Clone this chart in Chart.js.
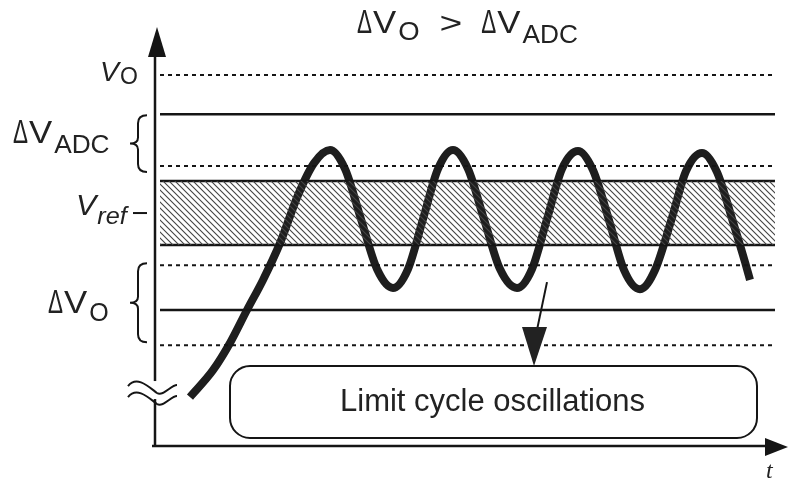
<!DOCTYPE html>
<html>
<head>
<meta charset="utf-8">
<script src="https://cdn.jsdelivr.net/npm/chart.js@4"></script>
<style>
  html, body { margin: 0; padding: 0; background: #fff; }
  canvas { display: block; }
</style>
</head>
<body>
<canvas id="myChart" width="790" height="489"></canvas>
<script>
// output voltage trace (time, volts relative to Vref, 1 unit = half the ADC zero band)
const tTrace = [3.5, 5.8, 7.5, 9.2, 10.8, 12.5, 14.3, 15.9, 17.5, 19.0, 20.6, 22.2, 23.8, 25.3, 26.8, 28.3,
  29.8, 31.3, 32.9, 34.5, 36.2, 37.7, 39.2, 40.7, 42.3, 43.8, 45.4, 46.9, 48.5, 50.0, 51.6, 53.1,
  54.7, 56.2, 57.8, 59.0, 59.5];
const vTrace = [-5.75, -4.91, -4.06, -3.03, -2.09, -0.94, 0.56, 1.56, 1.97, 1.38, -0.19, -1.75, -2.34, -1.75, -0.19, 1.38,
  1.97, 1.38, -0.19, -1.75, -2.34, -1.75, -0.19, 1.38, 1.94, 1.34, -0.22, -1.78, -2.38, -1.78, -0.25, 1.31,
  1.88, 1.28, -0.28, -1.53, -2.09];

// threshold levels
const dottedLevels = [4.31, 1.47, -1.63, -4.13];
const solidLevels = [3.09, 1.0, -1.0, -3.03];
const bandLevels = [1.0, -1.0];   // ADC zero band around Vref
const tStart = 0.5, tEnd = 62;

function hatch() {
  const c = document.createElement('canvas');
  c.width = 6; c.height = 6;
  const g = c.getContext('2d');
  g.strokeStyle = '#444';
  g.lineWidth = 1.1;
  g.beginPath();
  g.moveTo(0, 0); g.lineTo(6, 6);
  g.moveTo(-1, 5); g.lineTo(1, 7);
  g.moveTo(5, -1); g.lineTo(7, 1);
  g.stroke();
  return g.createPattern(c, 'repeat');
}

const ink = '#151515';
const sans = '"Liberation Sans", Arial, sans-serif';

const datasets = [];
datasets.push({
  data: [{ x: tStart, y: bandLevels[0] }, { x: tEnd, y: bandLevels[0] }],
  borderWidth: 0, backgroundColor: hatch(), fill: '+1', pointRadius: 0
});
datasets.push({
  data: [{ x: tStart, y: bandLevels[1] }, { x: tEnd, y: bandLevels[1] }],
  borderWidth: 0, fill: false, pointRadius: 0
});
dottedLevels.forEach(l => datasets.push({
  data: [{ x: tStart, y: l }, { x: tEnd, y: l }],
  borderColor: ink, borderWidth: 2, borderDash: [4, 4], fill: false, pointRadius: 0
}));
solidLevels.forEach(l => datasets.push({
  data: [{ x: tStart, y: l }, { x: tEnd, y: l }],
  borderColor: ink, borderWidth: 2.5, fill: false, pointRadius: 0
}));
datasets.push({
  data: tTrace.map((t, i) => ({ x: t, y: vTrace[i] })),
  borderColor: '#1e1e1e', borderWidth: 8, cubicInterpolationMode: 'monotone', fill: false, pointRadius: 0
});

function roundBox(ctx, x, y, w, h, r) {
  ctx.beginPath();
  ctx.moveTo(x + r, y);
  ctx.arcTo(x + w, y, x + w, y + h, r);
  ctx.arcTo(x + w, y + h, x, y + h, r);
  ctx.arcTo(x, y + h, x, y, r);
  ctx.arcTo(x, y, x + w, y, r);
  ctx.closePath();
}

function brace(ctx, x, y1, y2) {
  const m = (y1 + y2) / 2;
  ctx.beginPath();
  ctx.moveTo(x + 11, y1);
  ctx.quadraticCurveTo(x + 2, y1, x + 2, y1 + 8);
  ctx.lineTo(x + 2, m - 6);
  ctx.quadraticCurveTo(x + 2, m, x - 6, m);
  ctx.quadraticCurveTo(x + 2, m, x + 2, m + 6);
  ctx.lineTo(x + 2, y2 - 8);
  ctx.quadraticCurveTo(x + 2, y2, x + 11, y2);
  ctx.stroke();
}

// draw a run of [text, size, dy, italic, gapAfter, xStretch] pieces
function runText(ctx, x, y, parts) {
  parts.forEach(p => {
    const [txt, size, dy, italic, gap = 0, kx = 1] = p;
    ctx.font = (italic ? 'italic ' : '') + size + 'px ' + sans;
    ctx.save();
    ctx.translate(x, y + dy);
    ctx.scale(kx, 1);
    ctx.fillText(txt, 0, 0);
    ctx.restore();
    x += ctx.measureText(txt).width * kx + gap;
  });
  return x;
}

const decor = {
  id: 'decor',
  afterDatasetsDraw(chart) {
    const ctx = chart.ctx;
    const sx = chart.scales.x, sy = chart.scales.y;
    const a = chart.chartArea;
    const X = v => sx.getPixelForValue(v), Y = v => sy.getPixelForValue(v);
    ctx.save();
    ctx.strokeStyle = ink; ctx.fillStyle = ink;
    ctx.lineWidth = 2.5;

    // axes
    ctx.beginPath();
    ctx.moveTo(a.left, a.bottom); ctx.lineTo(a.left, a.top + 20);
    ctx.moveTo(a.left - 3, a.bottom); ctx.lineTo(a.right - 5, a.bottom);
    ctx.stroke();
    ctx.beginPath();
    ctx.moveTo(a.left + 2, a.top - 3); ctx.lineTo(a.left - 7, a.top + 27); ctx.lineTo(a.left + 11, a.top + 27);
    ctx.closePath(); ctx.fill();
    ctx.beginPath();
    ctx.moveTo(a.right + 13, a.bottom + 1); ctx.lineTo(a.right - 10, a.bottom - 8); ctx.lineTo(a.right - 10, a.bottom + 10);
    ctx.closePath(); ctx.fill();

    // axis break
    const by = Y(-5.5);
    ctx.fillStyle = '#fff';
    ctx.fillRect(a.left - 6, by - 8, 12, 18);
    ctx.fillStyle = ink;
    ctx.lineWidth = 2;
    [0, 11].forEach(o => {
      ctx.beginPath();
      ctx.moveTo(a.left - 27, by - 3 + o);
      ctx.bezierCurveTo(a.left - 18, by - 14 + o, a.left - 6, by - 2 + o, a.left + 2, by + 4 + o);
      ctx.bezierCurveTo(a.left + 8, by + 8 + o, a.left + 16, by - 4 + o, a.left + 22, by - 4 + o);
      ctx.stroke();
    });

    // level labels
    ctx.textBaseline = 'alphabetic';
    ctx.fillStyle = '#222';
    const D = ['Δ', 34, 0, false, 1, 0.66];
    const V = ['V', 31, 0, false, 2, 1.12];
    runText(ctx, 100, Y(dottedLevels[0]) + 6, [['V', 27, 0, true, 1, 1.05], ['O', 23, 3, false, 0, 1.0]]);
    runText(ctx, 13, (Y(solidLevels[0]) + Y(dottedLevels[1])) / 2 + 3,
      [D, V, ['ADC', 25, 10, false, 0, 1.05]]);
    runText(ctx, 76, Y(0) + 2, [['V', 29, 0, true, 1, 1.05], ['ref', 23, 9, true, 0, 1.1]]);
    runText(ctx, 48, (Y(dottedLevels[2]) + Y(dottedLevels[3])) / 2 + 8,
      [D, V, ['O', 25, 8, false, 0, 1.0]]);
    ctx.lineWidth = 2;
    ctx.beginPath(); ctx.moveTo(133, Y(0)); ctx.lineTo(147, Y(0)); ctx.stroke();
    brace(ctx, 136, Y(solidLevels[0]) + 1, Y(dottedLevels[1]) + 6);
    brace(ctx, 136, Y(dottedLevels[2]) - 2, Y(dottedLevels[3]) - 3);

    // title
    runText(ctx, 357, 33, [D, V, ['O', 25, 7, false, 20, 1.1],
      ['>', 30, 0, false, 19, 1.3], D, V, ['ADC', 25, 10, false, 0, 1.05]]);
    ctx.font = 'italic 24px "Liberation Serif", serif';
    ctx.fillText('t', 766, 478);

    // callout box
    const bx = X(7.5), bw = X(60.2) - bx, bt = Y(-4.78), bh = Y(-7.03) - bt;
    ctx.lineWidth = 2;
    roundBox(ctx, bx, bt, bw, bh, 20);
    ctx.stroke();
    ctx.font = '31px ' + sans;
    ctx.textAlign = 'center';
    ctx.textBaseline = 'middle';
    ctx.fillText('Limit cycle oscillations', bx + bw / 2 - 1, bt + bh / 2);

    // arrow to box
    ctx.lineWidth = 2;
    ctx.beginPath(); ctx.moveTo(X(39.2), Y(-2.16)); ctx.lineTo(X(38.1), Y(-3.8)); ctx.stroke();
    ctx.beginPath();
    ctx.moveTo(X(37.9), bt);
    ctx.lineTo(X(37.9) - 12, Y(-3.56));
    ctx.lineTo(X(37.9) + 13, Y(-3.56));
    ctx.closePath(); ctx.fill();
    ctx.restore();
  }
};

new Chart(document.getElementById('myChart'), {
  type: 'line',
  data: { datasets },
  options: {
    responsive: false,
    animation: false,
    devicePixelRatio: 1,
    layout: { padding: { left: 155, right: 15, top: 30, bottom: 43 } },
    scales: {
      x: { type: 'linear', min: 0, max: 62, display: false },
      y: { min: -7.28, max: 5.72, display: false }
    },
    plugins: { legend: { display: false }, tooltip: { enabled: false } }
  },
  plugins: [decor]
});
</script>
</body>
</html>
